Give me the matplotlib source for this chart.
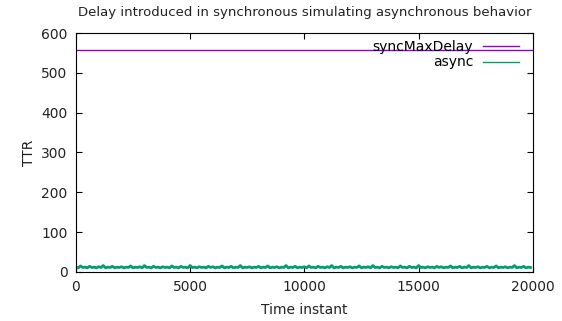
import matplotlib.pyplot as plt
import numpy as np

# syncMaxDelay is a flat line across the whole run
sync_max_delay = 558

# async TTR samples, one every 100 time instants
async_ttr = [
    12, 10, 15, 11, 12, 10, 14, 11, 12, 10, 13, 11, 16, 10, 12, 11, 14, 10, 12, 11,
    13, 10, 12, 11, 15, 10, 12, 11, 13, 10, 16, 11, 12, 10, 14, 11, 12, 10, 13, 11,
    12, 10, 15, 11, 12, 10, 14, 11, 12, 10, 16, 11, 12, 10, 13, 11, 12, 10, 14, 11,
    13, 10, 12, 11, 15, 10, 12, 11, 14, 10, 12, 11, 16, 10, 12, 11, 13, 10, 12, 11,
    14, 10, 12, 11, 15, 10, 12, 11, 13, 10, 12, 11, 16, 10, 12, 11, 14, 10, 12, 11,
    13, 10, 15, 11, 12, 10, 14, 11, 12, 10, 13, 11, 16, 10, 12, 11, 14, 10, 12, 11,
    13, 10, 12, 11, 15, 10, 12, 11, 13, 10, 16, 11, 12, 10, 14, 11, 12, 10, 13, 11,
    12, 10, 15, 11, 12, 10, 14, 11, 12, 10, 16, 11, 12, 10, 13, 11, 12, 10, 14, 11,
    13, 10, 12, 11, 15, 10, 12, 11, 14, 10, 12, 11, 16, 10, 12, 11, 13, 10, 12, 11,
    14, 10, 12, 11, 15, 10, 12, 11, 13, 10, 12, 11, 16, 10, 12, 11, 14, 10, 12, 11,
]
time_step = 100
time_instant = np.arange(len(async_ttr)) * time_step

fig = plt.figure(figsize=(5.62, 3.21), dpi=100)
ax = fig.add_axes([0.135, 0.153, 0.813, 0.744])

ax.axhline(sync_max_delay, color="#9400d3", lw=1, label="syncMaxDelay")
ax.plot(time_instant, async_ttr, color="#009e73", lw=2, label="async")

ax.set_xlim(0, 20000)
ax.set_ylim(0, 600)
ax.set_xticks([0, 5000, 10000, 15000, 20000])
ax.set_yticks([0, 100, 200, 300, 400, 500, 600])
ax.tick_params(direction="in", top=True, right=True, labelsize=10, length=4,
               pad=6, labelcolor="#222222")

ax.set_xlabel("Time instant", fontsize=10, labelpad=6, color="#222222")
ax.set_ylabel("TTR", fontsize=10, labelpad=4, color="#222222")
ax.set_title("Delay introduced in synchronous simulating asynchronous behavior",
             fontsize=9.5, pad=12, color="#222222")

leg = ax.legend(loc="upper right", bbox_to_anchor=(0.985, 1.0), frameon=False,
                markerfirst=False, fontsize=10, handlelength=2.6,
                handletextpad=0.7, borderaxespad=0.1, labelspacing=0.1)
for line in leg.get_lines():
    line.set_linewidth(1)

fig.savefig("out.png", dpi=100)
